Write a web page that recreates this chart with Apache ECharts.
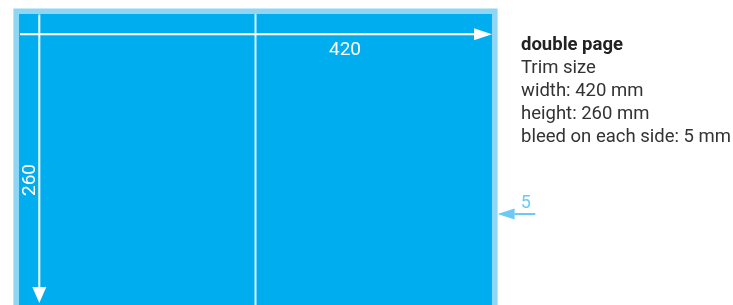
<!DOCTYPE html>
<html>
<head>
<meta charset="utf-8">
<script src="https://cdn.jsdelivr.net/npm/echarts@6/dist/echarts.min.js"></script>
<style>
  html, body { margin: 0; padding: 0; background: #fff; }
  #main { width: 733px; height: 305px; }
</style>
</head>
<body>
<div id="main"></div>
<script>
// page sizes in mm
var trimSize = [420, 260];     // width, height
var bleed = 5;
var spineX = 210;
var dimOffset = 18;            // where the dimension arrows sit inside the page
var widthLabel = '420';
var heightLabel = '260';
var bleedLabel = '5';
var infoTitle = 'double page';
var infoLines = ['Trim size', 'width: 420 mm', 'height: 260 mm', 'bleed on each side: 5 mm'];

var chart = echarts.init(document.getElementById('main'));

// little helper for an arrow (line + triangle head)
function arrow(p0, p1, color, width, headLen, headHalf) {
  var dx = p1[0] - p0[0], dy = p1[1] - p0[1];
  var len = Math.sqrt(dx * dx + dy * dy);
  var ux = dx / len, uy = dy / len;
  var bx = p1[0] - ux * headLen, by = p1[1] - uy * headLen;
  return [{
    type: 'line',
    shape: { x1: p0[0], y1: p0[1], x2: bx, y2: by },
    style: { stroke: color, lineWidth: width }
  }, {
    type: 'polygon',
    shape: { points: [[p1[0], p1[1]], [bx - uy * headHalf, by + ux * headHalf], [bx + uy * headHalf, by - ux * headHalf]] },
    style: { fill: color }
  }];
}

var font = 'Roboto, "Noto Sans", sans-serif';

// the page runs off the bottom of the picture, so the y axis only shows down to ~258 mm
chart.setOption({
  animation: false,
  title: {
    left: 516,
    top: 29,
    padding: 5,
    text: '{b|' + infoTitle + '}\n' + infoLines.join('\n'),
    textStyle: {
      fontFamily: font,
      fontSize: 18.5,
      lineHeight: 23,
      color: '#333',
      fontWeight: 'normal',
      width: 230,
      rich: {
        b: { fontFamily: font, fontSize: 18.5, fontWeight: 'bold', color: '#222', lineHeight: 23 }
      }
    }
  },
  grid: { left: 13.4, top: 8.4, right: 235.4, bottom: 0, containLabel: false },
  xAxis: { type: 'value', min: -bleed, max: trimSize[0] + bleed, show: false },
  yAxis: { type: 'value', min: -bleed, max: 258.4, inverse: true, show: false },
  series: [{
    type: 'custom',
    clip: false,
    silent: true,
    data: [[trimSize[0], trimSize[1]]],
    renderItem: function (params, api) {
      var w = api.value(0), h = api.value(1);
      var o0 = api.coord([-bleed, -bleed]), o1 = api.coord([w + bleed, h + bleed]);
      var t0 = api.coord([0, 0]), t1 = api.coord([w, h]);
      var sTop = api.coord([spineX, 0]), sBot = api.coord([spineX, h]);
      var children = [{
        type: 'rect',
        shape: { x: o0[0], y: o0[1], width: o1[0] - o0[0], height: o1[1] - o0[1] },
        style: { fill: '#8fd6f4' }
      }, {
        type: 'rect',
        shape: { x: t0[0], y: t0[1], width: t1[0] - t0[0], height: t1[1] - t0[1] },
        style: { fill: '#00aeef' }
      }, {
        type: 'line',
        shape: { x1: sTop[0], y1: sTop[1], x2: sBot[0], y2: sBot[1] },
        style: { stroke: 'rgba(255,255,255,0.85)', lineWidth: 2 }
      }];
      // width arrow
      var hA = api.coord([0.8, dimOffset]), hB = api.coord([w, dimOffset]);
      children = children.concat(arrow(hA, hB, '#fff', 2, 18, 6));
      // height arrow
      var vA = api.coord([dimOffset, 0.5]), vB = api.coord([dimOffset, h - 3.3]);
      children = children.concat(arrow(vA, vB, '#fff', 2, 16, 7));
      // labels
      var wl = api.coord([289.5, 32]);
      children.push({
        type: 'text', x: wl[0], y: wl[1],
        style: { text: widthLabel, fill: '#fff', font: '19px ' + font, align: 'center', verticalAlign: 'middle' }
      });
      var hl = api.coord([9.8, 147.4]);
      children.push({
        type: 'text', x: hl[0], y: hl[1], rotation: Math.PI / 2,
        style: { text: heightLabel, fill: '#fff', font: '19px ' + font, align: 'center', verticalAlign: 'middle' }
      });
      // bleed arrow outside the page
      var bA = api.coord([w + 38.5, 177.6]), bB = api.coord([w + bleed, 177.6]);
      children = children.concat(arrow(bA, bB, '#6ccaf2', 2, 17, 5.5));
      var bl = api.coord([w + 30, 168]);
      children.push({
        type: 'text', x: bl[0], y: bl[1],
        style: { text: bleedLabel, fill: '#6ccaf2', font: '18px ' + font, align: 'center', verticalAlign: 'middle' }
      });
      return { type: 'group', children: children };
    }
  }]
});
</script>
</body>
</html>
